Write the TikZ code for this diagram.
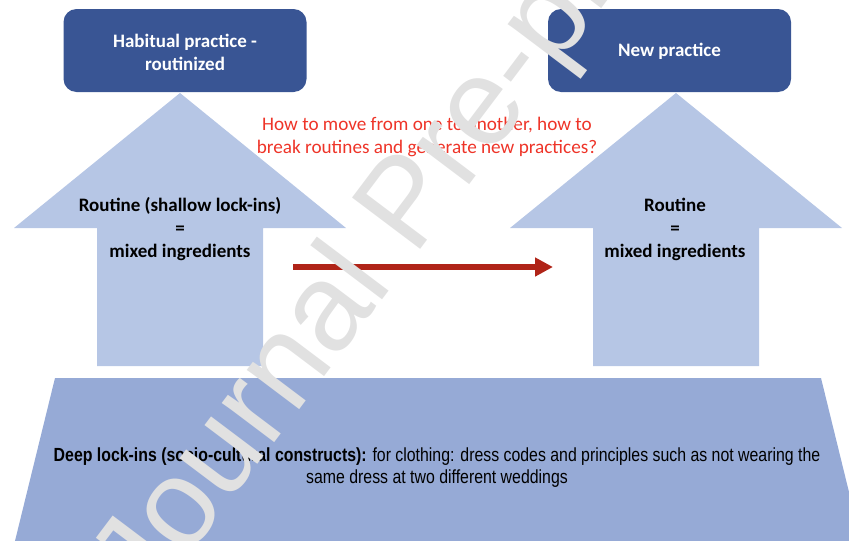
\documentclass[tikz,border=0pt]{standalone}
\usepackage{fontspec}
\setmainfont{Carlito}
\newfontfamily\narrowsans[FakeStretch=0.835]{Liberation Sans}
\newfontfamily\markfont{Liberation Sans}
\usetikzlibrary{arrows.meta}

\definecolor{boxblue}{RGB}{57,85,148}
\definecolor{arrowblue}{RGB}{182,198,229}
\definecolor{baseblue}{RGB}{150,170,214}
\definecolor{questionred}{RGB}{238,52,40}
\definecolor{flowred}{RGB}{176,36,24}
\definecolor{markgray}{RGB}{225,225,225}

\begin{document}
\begin{tikzpicture}[x=1pt,y=-1pt,
  practice/.style={fill=boxblue, rounded corners=13pt,
    minimum width=243pt, minimum height=83pt, inner sep=0pt},
  practicetext/.style={text=white, font=\fontsize{19}{23}\selectfont\bfseries,
    align=center, inner sep=0pt},
  uparrow/.style={fill=arrowblue},
  routinetext/.style={font=\fontsize{19}{23}\selectfont\bfseries, align=center, inner sep=0pt},
  question/.style={text=questionred, font=\fontsize{19.2}{23.5}\selectfont, align=center, inner sep=0pt},
  deeptext/.style={font=\narrowsans\fontsize{19}{22}\selectfont, align=center, inner sep=0pt},
  flow/.style={draw=flowred, line width=6pt, -{Triangle[length=18pt,width=18pt]}},
  proofmark/.style={text=markgray, font=\markfont\fontsize{124}{124}\selectfont,
    rotate=53, anchor=base west, inner sep=0pt}
]
\useasboundingbox (0,0) rectangle (849,541);
\clip (0,0) rectangle (849,541);

% upward block arrows
\fill[uparrow] (180,93) -- (346,228) -- (263,228) -- (263,366) -- (97,366)
  -- (97,228) -- (14,228) -- cycle;
\fill[uparrow] (676,93) -- (842,228) -- (759,228) -- (759,366) -- (593,366)
  -- (593,228) -- (510,228) -- cycle;

% base of deep lock-ins
\fill[baseblue] (55,378) -- (821,378) -- (862,545) -- (14,545) -- cycle;

% practice boxes and their labels
\node[practice] (habitual) at (185,50.5) {};
\node[practice] (newpractice) at (669.5,50.5) {};
\node[practicetext] (habitualtext) at (185,52.5) {Habitual practice -\\routinized};
\node[practicetext] (newpracticetext) at (669.5,51) {New practice};

% texts inside the block arrows
\node[routinetext] (routineleft) at (180,229.5) {Routine (shallow lock-ins)\\=\\mixed ingredients};
\node[routinetext] (routineright) at (675,229.5) {Routine\\=\\mixed ingredients};

% central question
\node[question] (question) at (427,137) {How to move from one to another, how to\\break routines and generate new practices?};

% deep lock-ins description
\node[deeptext] (deep) at (437,468) {\textbf{Deep lock-ins (socio-cultural constructs):} for clothing: dress codes and principles such as not wearing the\\same dress at two different weddings};

% transition arrow
\coordinate (flowstart) at (293,267);
\coordinate (flowend) at (553,267);
\draw[flow] (flowstart) -- (flowend);

% watermark
\node[proofmark] (watermark) at (149,609.6) {Journal Pre-proof};
\end{tikzpicture}
\end{document}
